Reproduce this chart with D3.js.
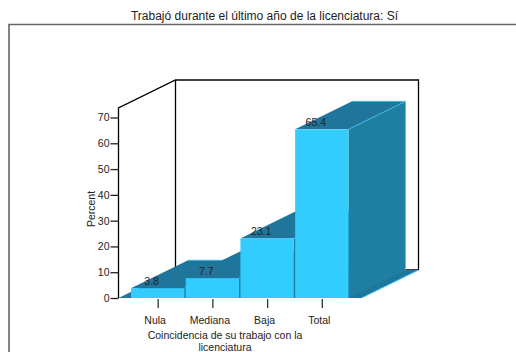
<!DOCTYPE html>
<html><head><meta charset="utf-8">
<script src="https://cdn.jsdelivr.net/npm/d3@7/dist/d3.min.js"></script>
<style>html,body{margin:0;padding:0;background:#fff}svg{display:block}text{font-family:"Liberation Sans",Arial,sans-serif;fill:#222}</style>
</head><body><svg id="c" width="516" height="352"></svg>
<script>
const categories = ["Nula","Mediana","Baja","Total"];
const values = [3.8,7.7,23.1,65.4];
const yTicks = [0,10,20,30,40,50,60,70];
const titleText = "Trabajó durante el último año de la licenciatura: Sí";
const xTitleLines = ["Coincidencia de su trabajo con la","licenciatura"];
const yTitle = "Percent";

(function(){
const svg = d3.select("#c");
const dx = 57, dy = -28;
const y = d3.scaleLinear().domain([0,70]).range([298,117.5]);
const x = d3.scaleBand().domain(categories).range([131,348.5]).paddingInner(0.025).paddingOuter(0);
const frontCol="#33ccff", sideCol="#1f7fa3", topCol="#20759a";

svg.append("text").attr("x",264.5).attr("y",19.5).attr("text-anchor","middle").attr("font-size",12).text(titleText);
svg.append("path").attr("d","M9,352V24.5H516").attr("fill","none").attr("stroke","#666").attr("stroke-width",1.6);

const x0=118.5, xEnd=361.5, y0=y(0), wallTop=108;
const sw=1.3;
svg.append("path").attr("d",`M${x0},${y0}V${wallTop}L${x0+dx},${wallTop+dy}H${xEnd+dx}V${y0+dy}`).attr("fill","none").attr("stroke","#000").attr("stroke-width",sw);
svg.append("line").attr("x1",x0+dx).attr("x2",x0+dx).attr("y1",wallTop+dy).attr("y2",y0+dy).attr("stroke","#000").attr("stroke-width",sw);
svg.append("line").attr("x1",x0+dx).attr("x2",xEnd+dx).attr("y1",y0+dy).attr("y2",y0+dy).attr("stroke","#000").attr("stroke-width",sw);
svg.append("path").attr("d",`M${x0},${y0}L${x0+dx},${y0+dy}H${xEnd+dx}L${xEnd},${y0}Z`).attr("fill",topCol);
svg.append("path").attr("d",`M${xEnd},${y0}L${xEnd+dx},${y0+dy}`).attr("stroke",frontCol).attr("fill","none");

const ax = svg.append("g").attr("transform",`translate(${x0},0)`).call(d3.axisLeft(y).tickValues(yTicks).tickSize(8).tickPadding(1).tickFormat(d3.format("d")));
ax.select(".domain").remove();
ax.selectAll("line").attr("stroke","#222").attr("stroke-width",sw);
ax.selectAll("text").attr("font-size",10.5).attr("font-family",'"Liberation Sans",Arial,sans-serif').attr("fill","#222");
svg.append("text").attr("transform","translate(94.5,209) rotate(-90)").attr("text-anchor","middle").attr("font-size",10.5).text(yTitle);

const g = svg.append("g");
categories.forEach((c,i)=>{
  const xa=x(c), xb=xa+x.bandwidth(), yt=y(values[i]);
  g.append("path").attr("d",`M${xa},${yt}L${xa+dx},${yt+dy}H${xb+dx}L${xb},${yt}Z`).attr("fill",topCol);
  g.append("path").attr("d",`M${xb},${yt}L${xb+dx},${yt+dy}V${y0+dy}L${xb},${y0}Z`).attr("fill",sideCol);
  g.append("path").attr("d",`M${xb},${yt}L${xb+dx},${yt+dy}V${y0+dy}`).attr("fill","none").attr("stroke",frontCol).attr("stroke-width",0.7);
  g.append("path").attr("d",`M${xa+dx},${yt+dy}H${xb+dx}`).attr("fill","none").attr("stroke",frontCol).attr("stroke-width",0.7);
  g.append("rect").attr("x",xa).attr("y",yt).attr("width",xb-xa).attr("height",y0-yt).attr("fill",frontCol);
});
categories.forEach((c,i)=>{
  svg.append("text").attr("x",x(c)+x.bandwidth()/2-6).attr("y",y(values[i])-3.5).attr("text-anchor","middle").attr("font-size",10.5).attr("fill","#111").text(values[i]);
});
categories.forEach(c=>{
  const cx=x(c)+x.bandwidth()/2+0.5;
  svg.append("line").attr("x1",cx).attr("x2",cx).attr("y1",299).attr("y2",308).attr("stroke","#333").attr("stroke-width",sw);
  svg.append("text").attr("x",cx-3).attr("y",323.5).attr("text-anchor","middle").attr("font-size",10.5).text(c);
});
xTitleLines.forEach((t,i)=>{
  svg.append("text").attr("x",225).attr("y",339+i*12).attr("text-anchor","middle").attr("font-size",10.5).text(t);
});
})();
</script></body></html>
